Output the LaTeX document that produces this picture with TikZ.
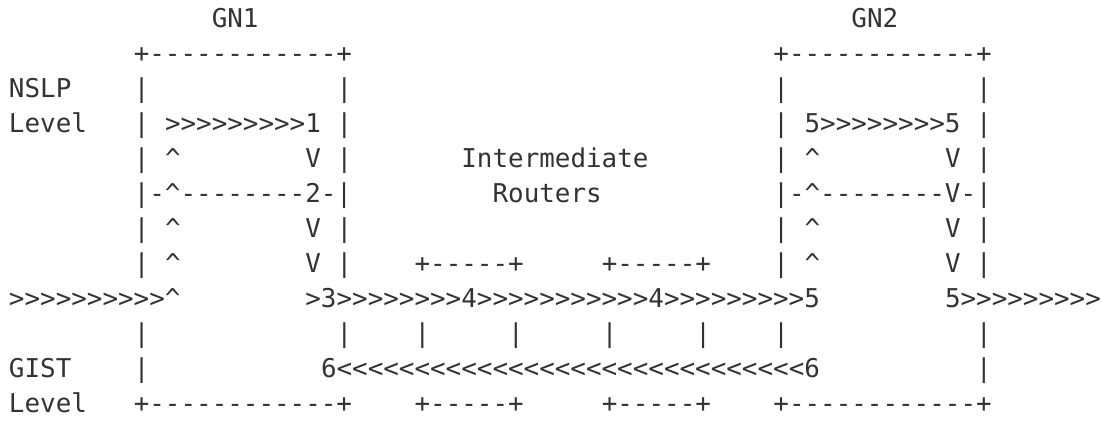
\documentclass[tikz,border=0pt]{standalone}
\usepackage{fontspec}
\setmonofont{DejaVu Sans Mono}
\definecolor{ink}{HTML}{333333}
\newcommand\Ca{\textasciicircum}
\tikzset{asc/.style={anchor=base west, inner sep=0pt, outer sep=0pt, text=ink,
  font=\ttfamily\fontsize{25.9}{30}\selectfont}}
% \gl{name}{column}{row}{text}
\newcommand\gl[4]{\node[asc] (#1) at ({9+15.6*#2},{-27-35*(#3-1)}) {#4};}
\begin{document}
\begin{tikzpicture}[x=1pt,y=1pt]
\useasboundingbox (0,0) rectangle (1103,-421);
% row 1
\gl{gnA}{13}{1}{GN1}
\gl{gnB}{54}{1}{GN2}
% row 2
\gl{topA}{8}{2}{+------------+}
\gl{topB}{49}{2}{+------------+}
% row 3
\gl{nslp}{0}{3}{NSLP}
\gl{r3a}{8}{3}{|}
\gl{r3b}{21}{3}{|}
\gl{r3c}{49}{3}{|}
\gl{r3d}{62}{3}{|}
% row 4
\gl{lvlA}{0}{4}{Level}
\gl{r4a}{8}{4}{|}
\gl{r4b}{10}{4}{>>>>>>>>>1}
\gl{r4c}{21}{4}{|}
\gl{r4d}{49}{4}{|}
\gl{r4e}{51}{4}{5>>>>>>>>5}
\gl{r4f}{62}{4}{|}
% row 5
\gl{r5a}{8}{5}{|}
\gl{r5b}{10}{5}{\Ca}
\gl{r5c}{19}{5}{V}
\gl{r5d}{21}{5}{|}
\gl{inter}{29}{5}{Intermediate}
\gl{r5e}{49}{5}{|}
\gl{r5f}{51}{5}{\Ca}
\gl{r5g}{60}{5}{V}
\gl{r5h}{62}{5}{|}
% row 6
\gl{r6a}{8}{6}{|-\Ca--------2-|}
\gl{rout}{31}{6}{Routers}
\gl{r6b}{49}{6}{|-\Ca--------V-|}
% row 7
\gl{r7a}{8}{7}{|}
\gl{r7b}{10}{7}{\Ca}
\gl{r7c}{19}{7}{V}
\gl{r7d}{21}{7}{|}
\gl{r7e}{49}{7}{|}
\gl{r7f}{51}{7}{\Ca}
\gl{r7g}{60}{7}{V}
\gl{r7h}{62}{7}{|}
% row 8
\gl{r8a}{8}{8}{|}
\gl{r8b}{10}{8}{\Ca}
\gl{r8c}{19}{8}{V}
\gl{r8d}{21}{8}{|}
\gl{irA}{26}{8}{+-----+}
\gl{irB}{38}{8}{+-----+}
\gl{r8e}{49}{8}{|}
\gl{r8f}{51}{8}{\Ca}
\gl{r8g}{60}{8}{V}
\gl{r8h}{62}{8}{|}
% row 9
\gl{inA}{0}{9}{>>>>>>>>>>\Ca}
\gl{mid}{19}{9}{>3>>>>>>>>4>>>>>>>>>>>4>>>>>>>>>5}
\gl{outB}{60}{9}{5>>>>>>>>>}
% row 10
\gl{r10a}{8}{10}{|}
\gl{r10b}{21}{10}{|}
\gl{r10c}{26}{10}{|}
\gl{r10d}{32}{10}{|}
\gl{r10e}{38}{10}{|}
\gl{r10f}{44}{10}{|}
\gl{r10g}{49}{10}{|}
\gl{r10h}{62}{10}{|}
% row 11
\gl{gist}{0}{11}{GIST}
\gl{r11a}{8}{11}{|}
\gl{back}{20}{11}{6<<<<<<<<<<<<<<<<<<<<<<<<<<<<<<6}
\gl{r11b}{62}{11}{|}
% row 12
\gl{lvlB}{0}{12}{Level}
\gl{botA}{8}{12}{+------------+}
\gl{botC}{26}{12}{+-----+}
\gl{botD}{38}{12}{+-----+}
\gl{botB}{49}{12}{+------------+}
\end{tikzpicture}
\end{document}
